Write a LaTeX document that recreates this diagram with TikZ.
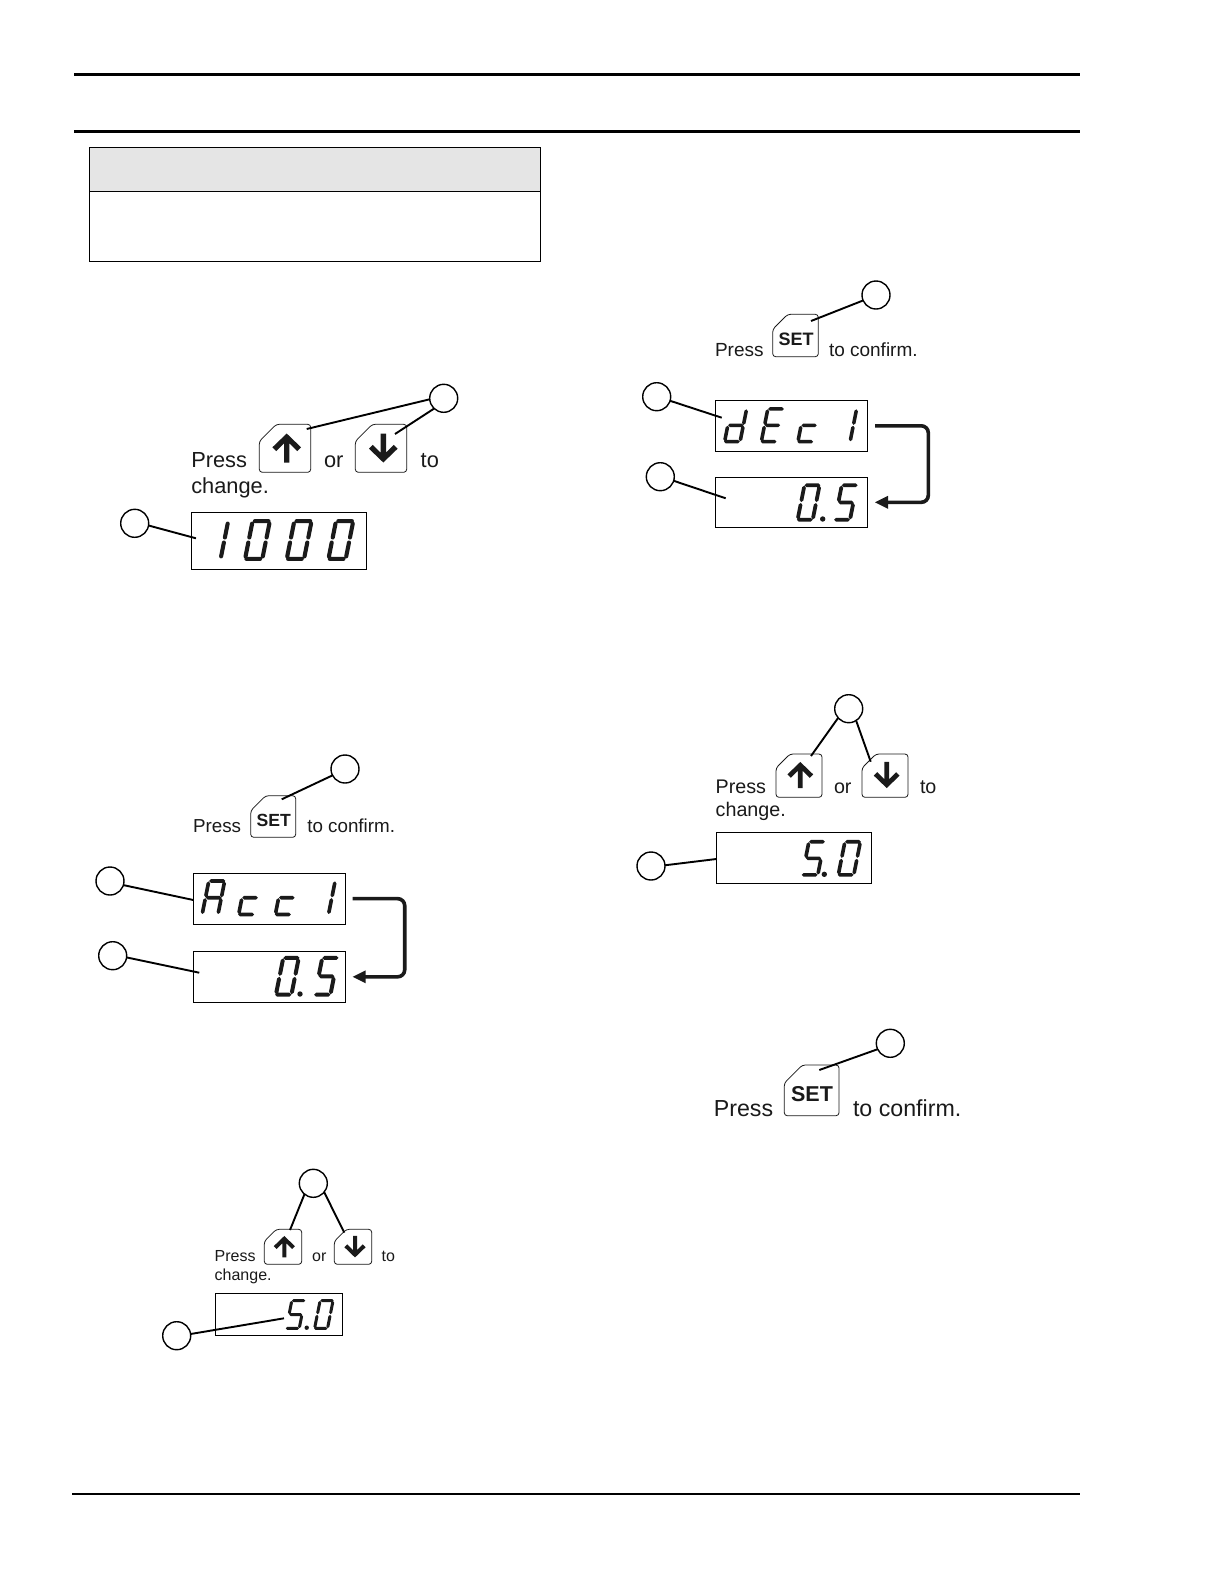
\documentclass[tikz,border=0pt]{standalone}
\usepackage{fontspec}
\setmainfont{Liberation Sans}
\definecolor{ink}{HTML}{1A1A1A}
\definecolor{headgray}{HTML}{E5E5E5}
\newcommand{\segA}{(4.4,38)--(18.6,38)}
\newcommand{\segD}{(3.4,2)--(17.6,2)}
\newcommand{\segF}{(2,22.4)--(2,35.6)}
\newcommand{\segE}{(2,4.4)--(2,17.6)}
\newcommand{\segB}{(20,22.4)--(20,35.6)}
\newcommand{\segC}{(20,4.4)--(20,17.6)}
\newcommand{\segG}{(4.4,20)--(18,20)}
\newcommand{\dig}[5]{\begin{scope}[shift={(#1,#2)},x=#3pt,y=#4pt,xslant=.2]\draw[ink,line width={3.9pt*#4},line cap=round] #5;\end{scope}}
\newcommand{\dZero}{\segA \segB \segC \segD \segE \segF}
\newcommand{\dOne}{\segB \segC}
\newcommand{\dFive}{\segA \segF \segG \segC \segD}
\newcommand{\dAyy}{\segA \segB \segC \segE \segF \segG}
\newcommand{\dCee}{\segG \segE \segD}
\newcommand{\dDee}{\segB \segC \segD \segE \segG}
\newcommand{\dEee}{\segA \segF \segG \segE \segD}
\newcommand{\keycap}[5]{\draw[keyline] (#1,#2+#5)--(#1+#5,#2)--(#3,#2)--(#3,#4)--(#1,#4)--cycle;}
\newcommand{\uparr}[3]{\begin{scope}[shift={(#1,#2)},x=#3pt,y=#3pt]\fill[ink] (0,14.5)--(14.3,.7)--(10.5,-3.1)--(2.7,4.7)--(2.7,-14.5)--(-2.7,-14.5)--(-2.7,4.7)--(-10.5,-3.1)--(-14.3,.7)--cycle;\end{scope}}
\newcommand{\dnarr}[3]{\begin{scope}[shift={(#1,#2)},x=#3pt,y=-#3pt]\fill[ink] (0,14.5)--(14.3,.7)--(10.5,-3.1)--(2.7,4.7)--(2.7,-14.5)--(-2.7,-14.5)--(-2.7,4.7)--(-10.5,-3.1)--(-14.3,.7)--cycle;\end{scope}}
\begin{document}
\begin{tikzpicture}[x=1pt,y=-1pt,
  rule/.style={line width=3pt,black},
  keyline/.style={line width=.8pt,draw=ink,fill=white,rounded corners=3pt},
  callout/.style={circle,draw=black,fill=white,line width=1.4pt,minimum size=28pt,inner sep=0,outer sep=0},
  lead/.style={line width=1.9pt,black},
  disp/.style={rectangle,draw=black,line width=1pt,inner sep=0,outer sep=0,anchor=north west},
  flow/.style={line width=3.6pt,ink,rounded corners=7pt},
  tip/.style={fill=ink},
  lbl/.style={inner sep=0,outer sep=0,anchor=base west,text=ink},
  fs/.style={font=\fontsize{#1pt}{#1pt}\selectfont},
  setlbl/.style={inner sep=0,outer sep=0,text=ink,font=\fontsize{#1pt}{#1pt}\selectfont\bfseries},
]
\useasboundingbox (0,0) rectangle (1225,1585);
\fill[white] (0,0) rectangle (1225,1585);

% page rules
\draw[rule] (74,74.5) -- (1080,74.5);
\draw[rule] (74,131.5) -- (1080,131.5);
\draw[line width=2pt] (72,1494) -- (1080,1494);

% table
\fill[headgray] (89.3,147.7) rectangle (540,191.3);
\draw[line width=1pt] (89.3,147.7) rectangle (540,261.3);
\draw[line width=1pt] (89.3,191.3) -- (540,191.3);

% ---- block 1
\keycap{259.3}{424.3}{310.7}{472.3}{17}
\keycap{355.3}{424.3}{406.7}{472.3}{17}
\uparr{286.7}{448}{1}
\dnarr{383.3}{448}{1}
\node[lbl,fs=21.8] (t1a) at (191.3,467.3) {Press};
\node[lbl,fs=21.8] (t1b) at (324,467.3) {or};
\node[lbl,fs=21.8] (t1c) at (420.7,467.3) {to};
\node[lbl,fs=21.8] (t1d) at (191.3,493) {change.};
\node[disp,minimum width=175pt,minimum height=57pt] (d1) at (191.7,512.3) {};
\dig{201}{561}{.96}{1.05}{\dOne}
\dig{242.7}{561}{.96}{1.05}{\dZero}
\dig{284.4}{561}{.96}{1.05}{\dZero}
\dig{326.1}{561}{.96}{1.05}{\dZero}
\node[callout] (c1a) at (443.7,398.3) {};
\node[callout] (c1b) at (134.7,523.3) {};
\coordinate (e1u) at (306.7,429);
\coordinate (e1d) at (395,434);
\coordinate (e1s) at (196,538.3);
\draw[lead] (c1a.184) -- (e1u);
\draw[lead] (c1a.227) -- (e1d);
\draw[lead] (c1b.351) -- (e1s);

% ---- block 2
\keycap{250.7}{795.7}{295.7}{837.3}{15}
\node[setlbl=17.6] (s2) at (273.7,820) {SET};
\node[lbl,fs=18.8] (t2a) at (193,832.7) {Press};
\node[lbl,fs=18.8] (t2b) at (307.3,832.7) {to confirm.};
\node[disp,minimum width=152.4pt,minimum height=50.7pt] (d2a) at (193.3,873.3) {};
\node[disp,minimum width=152.4pt,minimum height=51pt] (d2b) at (193.3,951.3) {};
\dig{200}{916.3}{.88}{.93}{\dAyy}
\dig{236.5}{916.3}{.88}{.93}{\dCee}
\dig{273.2}{916.3}{.88}{.93}{\dCee}
\dig{310.5}{916.3}{.88}{.93}{\dOne}
\dig{273.8}{996.7}{.86}{1.02}{\dZero}
\fill[ink] (300,994) circle (2.7);
\dig{312.8}{996.7}{.86}{1.02}{\dFive}
\node[callout] (c2a) at (345,769) {};
\node[callout] (c2b) at (110,881) {};
\node[callout] (c2c) at (112.7,955.7) {};
\coordinate (e2s) at (281.7,799.3);
\coordinate (e2a) at (193.3,900);
\coordinate (e2b) at (199.3,972.7);
\draw[lead] (c2a.207) -- (e2s);
\draw[lead] (c2b.343) -- (e2a);
\draw[lead] (c2c.353) -- (e2b);
\draw[flow] ([xshift=7pt]d2a.east) -- ++(52,0) |- ([xshift=18pt]d2b.east);
\fill[tip] ([xshift=7pt]d2b.east) -- ++(13,-6.5) -- ++(0,13) -- cycle;

% ---- block 3
\keycap{772.7}{314.3}{818.3}{356.7}{15}
\node[setlbl=18] (s3) at (796,339) {SET};
\node[lbl,fs=19] (t3a) at (715,356) {Press};
\node[lbl,fs=19] (t3b) at (829,356) {to confirm.};
\node[disp,minimum width=152.4pt,minimum height=51pt] (d3a) at (715.3,400.3) {};
\node[disp,minimum width=152.4pt,minimum height=50pt] (d3b) at (715.3,477.3) {};
\dig{722.5}{443.5}{.86}{.91}{\dDee}
\dig{759.2}{443.5}{.86}{.91}{\dEee}
\dig{795.8}{443.5}{.86}{.91}{\dCee}
\dig{832.5}{443.5}{.86}{.91}{\dOne}
\dig{795.5}{521.7}{.84}{.96}{\dZero}
\fill[ink] (822.7,519) circle (2.7);
\dig{832.8}{521.7}{.84}{.96}{\dFive}
\node[callout] (c3a) at (876,295) {};
\node[callout] (c3b) at (656.7,396.7) {};
\node[callout] (c3c) at (660.3,476.7) {};
\coordinate (e3s) at (811,321);
\coordinate (e3a) at (721.7,417.7);
\coordinate (e3b) at (725.7,498.3);
\draw[lead] (c3a.203) -- (e3s);
\draw[lead] (c3b.343) -- (e3a);
\draw[lead] (c3c.343) -- (e3b);
\draw[flow] ([xshift=7.3pt]d3a.east) -- ++(53.3,0) |- ([xshift=20pt]d3b.east);
\fill[tip] ([xshift=7.3pt]d3b.east) -- ++(13,-6.5) -- ++(0,13) -- cycle;

% ---- block 4
\keycap{264.3}{1229.3}{301.7}{1264.3}{12}
\keycap{334.3}{1229.3}{371.7}{1264.3}{12}
\uparr{284.3}{1246.7}{.74}
\dnarr{355}{1246.7}{.74}
\node[lbl,fs=16] (t4a) at (214.7,1261) {Press};
\node[lbl,fs=16] (t4b) at (312.2,1261) {or};
\node[lbl,fs=16] (t4c) at (381.7,1261) {to};
\node[lbl,fs=16] (t4d) at (214.7,1280.7) {change.};
\node[disp,minimum width=127.4pt,minimum height=42pt] (d4) at (215.3,1293.3) {};
\dig{284.5}{1330}{.72}{.775}{\dFive}
\fill[ink] (306.7,1327.7) circle (2.2);
\dig{312.8}{1330}{.72}{.775}{\dZero}
\node[callout] (c4a) at (313.3,1183.3) {};
\node[callout] (c4b) at (176.7,1335.7) {};
\coordinate (e4u) at (290,1230);
\coordinate (e4d) at (344.3,1232.7);
\coordinate (e4s) at (284,1318.3);
\draw[lead] (c4a.231) -- (e4u);
\draw[lead] (c4a.321) -- (e4d);
\draw[lead] (c4b.7) -- (e4s);

% ---- block 5
\keycap{776}{754}{822}{797.3}{14}
\keycap{862}{754}{908}{797.3}{14}
\uparr{800.3}{775}{.9}
\dnarr{886.7}{775}{.9}
\node[lbl,fs=19.7] (t5a) at (715.7,793.3) {Press};
\node[lbl,fs=19.7] (t5b) at (834,793.3) {or};
\node[lbl,fs=19.7] (t5c) at (920,793.3) {to};
\node[lbl,fs=19.7] (t5d) at (715.7,816.3) {change.};
\node[disp,minimum width=155.4pt,minimum height=50.6pt] (d5) at (716.3,832.7) {};
\dig{800.2}{876.7}{.86}{.92}{\dFive}
\fill[ink] (824.3,874.3) circle (2.7);
\dig{836.2}{876.7}{.86}{.92}{\dZero}
\node[callout] (c5a) at (848.7,708.7) {};
\node[callout] (c5b) at (651,866) {};
\coordinate (e5u) at (811,756);
\coordinate (e5d) at (870.7,761.7);
\coordinate (e5s) at (716.3,859);
\draw[lead] (c5a.221) -- (e5u);
\draw[lead] (c5a.302) -- (e5d);
\draw[lead] (c5b.3) -- (e5s);

% ---- block 6
\keycap{784.3}{1065}{839}{1115.7}{18}
\node[setlbl=21.5] (s6) at (812,1094.3) {SET};
\node[lbl,fs=23.2] (t6a) at (713.8,1116) {Press};
\node[lbl,fs=23.2] (t6b) at (853,1116) {to confirm.};
\node[callout] (c6a) at (890.3,1043.3) {};
\coordinate (e6s) at (819.3,1070);
\draw[lead] (c6a.205) -- (e6s);
\end{tikzpicture}
\end{document}
